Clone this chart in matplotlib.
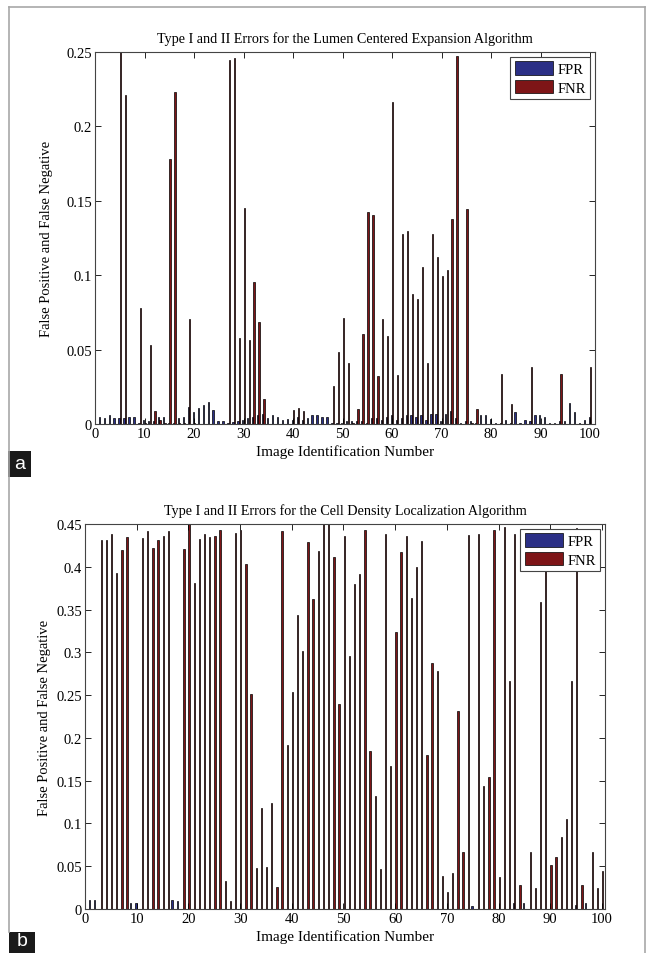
import numpy as np
import matplotlib
matplotlib.use("Agg")
import matplotlib.pyplot as plt
from matplotlib.ticker import FormatStrFormatter, MultipleLocator
from matplotlib.patches import Rectangle
from matplotlib.lines import Line2D

plt.rcParams['font.family'] = ['Liberation Serif', 'DejaVu Serif']

images = np.arange(1, 101)

# Panel a: Lumen Centered Expansion Algorithm
fpr_a = [0.0045, 0.004, 0.006, 0.004, 0.004, 0.004, 0.0045, 0.0045, 0.001, 0.003,
         0.002, 0.002, 0.005, 0.005, 0.001, 0.001, 0.004, 0.0045, 0.0117, 0.008,
         0.0105, 0.013, 0.0146, 0.0094, 0.002, 0.002, 0.001, 0.0015, 0.002, 0.003,
         0.004, 0.005, 0.006, 0.007, 0.004, 0.0058, 0.005, 0.003, 0.0036, 0.003,
         0.005, 0.003, 0.004, 0.006, 0.006, 0.0045, 0.0045, 0.001, 0.001, 0.001,
         0.002, 0.002, 0.002, 0.002, 0.001, 0.004, 0.004, 0.003, 0.005, 0.006,
         0.003, 0.004, 0.006, 0.006, 0.005, 0.006, 0.003, 0.007, 0.007, 0.002,
         0.007, 0.009, 0.004, 0.001, 0.002, 0.002, 0.001, 0.006, 0.006, 0.0035,
         0.001, 0.001, 0.003, 0.001, 0.0078, 0.001, 0.003, 0.002, 0.006, 0.006,
         0.005, 0.001, 0.001, 0.002, 0.002, 0.0139, 0.0078, 0.001, 0.003, 0.005]
fnr_a = [0.0, 0.0, 0.0, 0.0, 0.26, 0.221, 0.0, 0.0, 0.078, 0.001,
         0.053, 0.0085, 0.003, 0.001, 0.178, 0.223, 0.001, 0.001, 0.0706, 0.001,
         0.0, 0.0, 0.0, 0.0, 0.0, 0.0, 0.2446, 0.246, 0.0578, 0.145,
         0.0567, 0.0952, 0.0683, 0.0165, 0.0, 0.0, 0.0, 0.0, 0.0, 0.0094,
         0.0105, 0.009, 0.0, 0.0, 0.0, 0.0, 0.0, 0.0258, 0.0482, 0.071,
         0.0408, 0.001, 0.0101, 0.0605, 0.1427, 0.1405, 0.032, 0.0706, 0.0589, 0.2162,
         0.033, 0.1277, 0.1299, 0.0874, 0.084, 0.1057, 0.0408, 0.1277, 0.112, 0.0997,
         0.1037, 0.1378, 0.2475, 0.0, 0.1445, 0.001, 0.0101, 0.0, 0.0, 0.0,
         0.0, 0.0336, 0.0, 0.0134, 0.0, 0.0, 0.0, 0.038, 0.0, 0.0,
         0.0, 0.0, 0.0, 0.0336, 0.0, 0.0, 0.0, 0.0, 0.0, 0.038]

# Panel b: Cell Density Localization Algorithm
fpr_b = [0.01, 0.01, 0, 0, 0, 0, 0, 0, 0.0066, 0.0066,
         0, 0, 0, 0, 0, 0, 0.0105, 0.0097, 0, 0,
         0, 0, 0, 0, 0, 0, 0, 0, 0, 0,
         0, 0, 0, 0, 0, 0, 0, 0, 0, 0,
         0, 0, 0, 0, 0, 0, 0, 0, 0, 0,
         0, 0, 0, 0, 0, 0, 0, 0, 0, 0,
         0, 0, 0, 0, 0, 0, 0, 0, 0, 0,
         0, 0, 0, 0, 0.003, 0, 0, 0, 0, 0,
         0, 0, 0.0066, 0, 0.0066, 0, 0, 0, 0, 0,
         0, 0, 0, 0, 0.005, 0, 0.0066, 0, 0, 0]
fnr_b = [0, 0, 0.4317, 0.4317, 0.4383, 0.3927, 0.420, 0.4344, 0, 0,
         0.4337, 0.4414, 0.422, 0.4313, 0.4356, 0.4414, 0, 0, 0.4208, 0.46,
         0.381, 0.433, 0.4383, 0.435, 0.436, 0.4425, 0.0323, 0.0097, 0.439, 0.443,
         0.4032, 0.2513, 0.0479, 0.1177, 0.0495, 0.1235, 0.026, 0.4414, 0.192, 0.254,
         0.344, 0.301, 0.4293, 0.3623, 0.418, 0.46, 0.46, 0.411, 0.2396, 0.436,
         0.296, 0.38, 0.3915, 0.443, 0.1843, 0.1324, 0.0467, 0.438, 0.1675, 0.3234,
         0.417, 0.436, 0.3639, 0.3993, 0.4297, 0.18, 0.2871, 0.2778, 0.0382, 0.0203,
         0.0417, 0.2318, 0.0662, 0.4367, 0, 0.438, 0.1434, 0.1539, 0.4425, 0.037,
         0.4468, 0.2669, 0.438, 0.028, 0, 0.0662, 0.0242, 0.3584, 0.42, 0.0514,
         0.0604, 0.0838, 0.1052, 0.2669, 0.445, 0.028, 0, 0.0662, 0.0242, 0.044]

titles = ["Type I and II Errors for the Lumen Centered Expansion Algorithm",
          "Type I and II Errors for the Cell Density Localization Algorithm"]
series_names = ["FPR", "FNR"]
xlabel = "Image Identification Number"
ylabel = "False Positive and False Negative"

FPR_COLOR = "#2B2F86"
FNR_COLOR = "#7E1517"

W, H = 652, 954
fig = plt.figure(figsize=(W / 100, H / 100), dpi=100)


def px_axes(left, top, right, bottom):
    return fig.add_axes([left / W, 1 - bottom / H, (right - left) / W, (bottom - top) / H])


def draw_panel(ax, fpr, fnr, title, ymax, xmax, ystep, ylab_x):
    bw = 0.26
    ax.bar(images - 0.14, fpr, width=bw, color=FPR_COLOR, edgecolor="black",
           linewidth=0.5, label=series_names[0])
    ax.bar(images + 0.14, fnr, width=bw, color=FNR_COLOR, edgecolor="black",
           linewidth=0.5, label=series_names[1])
    ax.set_xlim(0, xmax)
    ax.set_ylim(0, ymax)
    ax.xaxis.set_major_locator(MultipleLocator(10))
    ax.yaxis.set_major_locator(MultipleLocator(ystep))
    ax.yaxis.set_major_formatter(FormatStrFormatter('%g'))
    ax.tick_params(direction='in', top=True, right=True, labelsize=10.5,
                   length=4, width=0.6, pad=2)
    for s in ax.spines.values():
        s.set_linewidth(0.8)
        s.set_color("#444444")
    ax.set_title(title, fontsize=10.2, pad=7)
    ax.set_xlabel(xlabel, fontsize=11, labelpad=3)
    ax.set_ylabel(ylabel, fontsize=10.5)
    ax.yaxis.set_label_coords(ylab_x, 0.5)
    leg = ax.legend(loc='upper right', fontsize=10.5, fancybox=False,
                    framealpha=1, edgecolor="#444444", handlelength=2.6,
                    handleheight=1.0, borderaxespad=0.35, borderpad=0.3,
                    handletextpad=0.3, labelspacing=0.3)
    leg.get_frame().set_linewidth(0.8)


ax_a = px_axes(95, 53, 595, 425)
draw_panel(ax_a, fpr_a, fnr_a, titles[0], 0.25, 101, 0.05, (53 - 95) / 500)

ax_b = px_axes(85, 525, 605, 910)
draw_panel(ax_b, fpr_b, fnr_b, titles[1], 0.45, 100.6, 0.05, (51 - 85) / 520)

# figure frame
gray = "#A8A8A8"
fig.add_artist(Line2D([9 / W, 645 / W], [1 - 8 / H, 1 - 8 / H], color=gray, lw=1.2))
fig.add_artist(Line2D([9 / W, 9 / W], [1 - 8 / H, 1 - 933 / H], color=gray, lw=1.2))
fig.add_artist(Line2D([645 / W, 645 / W], [1 - 8 / H, 0], color=gray, lw=1.2))

# panel letter boxes
for label, (x0, y0, x1, y1), cy in [("a", (8, 452, 31, 478), 465), ("b", (9, 933, 35, 960), 942)]:
    fig.add_artist(Rectangle((x0 / W, 1 - y1 / H), (x1 - x0) / W, (y1 - y0) / H,
                             transform=fig.transFigure, color="#1a1a1a", lw=0))
    fig.text((x0 + x1) / 2 / W, 1 - cy / H, label, color="white",
             fontsize=14, ha='center', va='center', family=['Liberation Sans', 'DejaVu Sans'])

fig.savefig("out.png", dpi=100)
